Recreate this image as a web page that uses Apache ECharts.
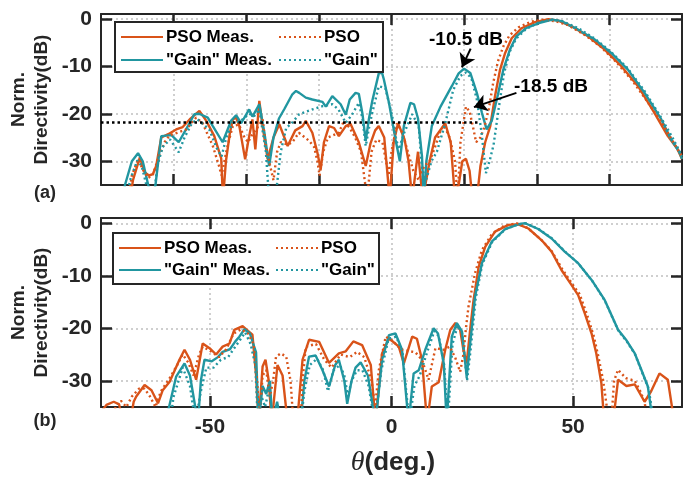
<!DOCTYPE html>
<html><head><meta charset="utf-8">
<script src="https://cdn.jsdelivr.net/npm/echarts@6/dist/echarts.min.js"></script>
<style>html,body{margin:0;padding:0;background:#fff}#c{width:683px;height:483px}</style>
</head><body><div id="c"></div>
<script>
// ---------- tick values ----------
const xTicksA = [-60, -40, -20, 0, 20, 40, 60];
const xTicksB = [-50, 0, 50];
const yTicks = [-30, -20, -10, 0];
const names = ['PSO Meas.', 'PSO', '"Gain" Meas.', '"Gain"'];

// ---------- panel (a) data [deg, dB] ----------
const aPsoMeas = [[-80,-38],[-72,-38],[-71.2,-34],[-69.3,-29.2],[-68,-32.3],[-66.8,-33],[-65.7,-32.7],[-64.8,-31],[-63.4,-25],[-61.5,-24.3],[-59.3,-23.3],[-57.5,-22.8],[-55.6,-21.2],[-52.9,-19.4],[-51,-21.5],[-48.8,-24.7],[-46.9,-29.4],[-46.4,-38],[-45.6,-30],[-44.5,-24],[-43.7,-21.2],[-42.8,-20.8],[-41.9,-22.6],[-40.3,-29.6],[-39.5,-26],[-38.3,-21.2],[-37.5,-27.5],[-36.4,-17.3],[-35.5,-22.6],[-34.1,-29.6],[-32.5,-25],[-30.9,-22.2],[-28.6,-26.8],[-26.5,-23.5],[-24.5,-22.6],[-23.6,-21.5],[-21.8,-24],[-20.4,-28.2],[-19.5,-31.7],[-18.6,-26],[-17.2,-22.6],[-15.8,-23],[-14.5,-24.7],[-12.6,-22.6],[-11.3,-22.1],[-9,-26],[-7.1,-31],[-5.8,-26.3],[-4.5,-23.5],[-3.5,-22.6],[-2,-25],[-0.5,-38],[0.6,-26],[1.8,-22],[3.6,-25.4],[4.7,-30],[5.7,-38],[7.3,-28],[8.6,-38],[10.5,-30],[12,-25],[14.8,-22],[16.3,-26],[17.5,-38],[18.3,-36],[19.5,-30],[20.5,-29.5],[21.5,-32],[22.3,-38],[23.5,-38],[24.5,-31],[25.8,-26],[27.2,-22.6],[28.5,-16.3],[29.9,-10.7],[31.3,-7.2],[33.1,-4.1],[35.8,-2],[39.5,-0.7],[43.2,-0.1],[45.9,-0.4],[49.6,-1.6],[54.1,-3.7],[58.7,-6.5],[63.3,-10],[67.9,-14.2],[72.4,-19.8],[76.1,-24.7],[78.8,-27.5],[80,-29.5]];
const aPso = [[-80,-38],[-72.5,-38],[-71.5,-33],[-69.8,-29.6],[-68.3,-32],[-67,-33.5],[-65.8,-33],[-64.5,-30],[-62.5,-26],[-61.1,-24.5],[-59,-24],[-56.5,-23.3],[-53.8,-20.8],[-52,-22],[-49.2,-26.8],[-47.5,-31],[-46.8,-33],[-45.5,-28],[-44.7,-25.4],[-43.7,-22.6],[-42,-22.3],[-40.5,-25],[-39.5,-26],[-38.3,-24.3],[-37,-23],[-35.5,-21.2],[-34.6,-26.8],[-33.5,-30.7],[-32.5,-34],[-31.5,-28],[-30.5,-26],[-28.6,-26.5],[-27.3,-26],[-25.5,-24],[-22.7,-25.7],[-21.3,-27],[-20.4,-30],[-19.8,-33],[-18.8,-28],[-17.5,-25],[-16,-24.5],[-14.5,-24],[-13.1,-21.5],[-11.5,-23],[-10,-25],[-8.4,-28],[-6.7,-38],[-5.5,-28],[-4.2,-25.5],[-2.5,-26],[-1.5,-30],[-0.8,-33],[0,-28],[1.5,-22],[3,-24],[4.5,-28],[6,-32],[7.5,-34],[9,-31],[10.5,-30],[12,-27],[13.5,-23.5],[14.5,-22.5],[16,-25],[17.5,-30],[18.2,-38],[19,-26],[20.5,-18.5],[21.5,-19.5],[22.5,-23],[23.3,-26],[24.5,-25],[25.5,-23],[26.8,-19],[28,-13.5],[29.3,-9],[30.8,-5.8],[32.5,-3.5],[35,-1.8],[38.5,-0.6],[42,-0.2],[45,-0.5],[48.5,-1.3],[53,-3.3],[57.5,-5.8],[62,-9.2],[66.5,-13.2],[70.5,-17.5],[74.5,-22],[77.5,-25.8],[80,-29]];
const aGainMeas = [[-80,-38],[-74,-38],[-73.4,-35],[-71.5,-30],[-69.8,-28.3],[-68.5,-30],[-67,-35],[-66,-38],[-65,-35],[-63.4,-24.7],[-60.6,-24.5],[-58.6,-26],[-56,-22.5],[-54.3,-20.1],[-53,-20],[-50.6,-20.8],[-49.2,-22.6],[-46.5,-26],[-44.2,-21.5],[-42.8,-20.3],[-41.4,-22],[-39.2,-19.1],[-38.3,-20.6],[-36.4,-18],[-35,-24],[-33.7,-31],[-32.5,-25],[-31,-21],[-29.5,-19],[-27.3,-15.9],[-26.3,-15.2],[-25.4,-15.6],[-23.6,-16.6],[-21.8,-17],[-19,-17.5],[-18.1,-18.5],[-16.3,-16.3],[-14,-18],[-12.6,-20.2],[-11.5,-17],[-9.9,-15.6],[-9,-15.8],[-8,-20],[-7.1,-25.7],[-6.2,-21],[-5.3,-17.3],[-3.5,-11.5],[-2.6,-11.4],[-2.1,-12.8],[-0.7,-17.7],[1.1,-25.4],[2.3,-30],[3.4,-22.6],[5.2,-17.7],[6.2,-18],[7.3,-21],[8.4,-29],[8.9,-38],[9.6,-30],[11.1,-22.6],[13.5,-18.5],[16.6,-14.2],[18.5,-11.5],[20,-10.5],[21.7,-11.4],[23.5,-15.6],[24.9,-19.8],[26.2,-23.3],[27.6,-21.5],[29.3,-16],[30.8,-10.7],[32.6,-6.5],[34.4,-3.7],[37,-2],[40.6,-0.9],[44.3,-0.2],[46.8,-0.5],[51.4,-2.3],[56,-4.4],[60.5,-7.2],[65.1,-10.7],[69.7,-15.6],[74.3,-21.2],[77,-25.4],[79.3,-28.1],[80,-29.5]];
const aGain = [[-80,-38],[-73,-38],[-72,-34],[-70,-29.8],[-68.8,-31],[-67.5,-35],[-66.8,-38],[-65.5,-38],[-64.5,-31],[-63,-27],[-61,-25.4],[-58.6,-28.1],[-57,-25],[-54.9,-21.9],[-53.4,-21.2],[-50.2,-23.3],[-48.1,-27.3],[-46.8,-29],[-45.5,-25],[-43.7,-21.9],[-41.5,-21.5],[-39.2,-20],[-37.8,-20.5],[-36.4,-19.1],[-34.6,-28],[-33.7,-38],[-32,-38],[-30.5,-28],[-29,-23],[-27.5,-22],[-25.4,-20.1],[-21.8,-19.1],[-19,-18.4],[-16.3,-18],[-14.6,-19.1],[-12.6,-21.9],[-10.8,-20.1],[-9,-17.7],[-8,-21],[-7.1,-26.8],[-6.2,-23],[-5.3,-19.8],[-3.5,-14.2],[-1.7,-14.6],[0.2,-20.5],[1.2,-25],[2,-27.5],[3.5,-24],[5.7,-20.1],[7.5,-22.6],[8.4,-31.5],[9.5,-34],[11,-30],[12.5,-28],[14.8,-22],[17,-15],[19,-12],[20.5,-11.3],[22,-12.5],[23.5,-17],[24.8,-24],[26,-32.5],[27,-30],[28.1,-26.6],[29.5,-19],[31,-11.5],[32.5,-7],[34.3,-4.2],[37,-2.2],[40.5,-0.8],[44,-0.2],[47,-0.5],[51.5,-2],[56,-4.2],[60.5,-7],[65,-10.4],[69.5,-15],[74,-20.5],[77,-24.5],[79.3,-27.8],[80,-29]];

// ---------- panel (b) data [deg, dB] ----------
const bPsoMeas = [[-80,-36],[-78.5,-34.6],[-76.5,-34],[-75,-34.5],[-74,-38],[-72,-38],[-71,-34],[-70.3,-33],[-68,-30.8],[-66.1,-31.8],[-64.3,-34.3],[-63,-31.8],[-61.1,-30.2],[-58.4,-26],[-57,-24.1],[-55.5,-26],[-53.8,-29.8],[-52,-22.9],[-50.1,-23.8],[-48.3,-25],[-46.5,-23.5],[-44.6,-22.9],[-43.3,-20.3],[-41,-19.6],[-39.5,-20.5],[-38.3,-21.2],[-37.3,-28.9],[-36.6,-38],[-35.5,-27.3],[-34.7,-26],[-33.8,-30],[-33,-38],[-31.4,-27],[-30,-29],[-28.6,-38],[-26,-38],[-24.5,-26],[-22.7,-22.2],[-19.9,-22.6],[-17.2,-26.6],[-14.5,-24.8],[-12.6,-24.4],[-10.5,-22.5],[-8.1,-23.2],[-5.7,-27],[-4.4,-38],[-2.6,-24.8],[-0.7,-21.9],[2,-23.5],[3.4,-26.7],[5.7,-21.6],[7,-22],[8.4,-26],[9.8,-38],[11.1,-31.1],[13,-30.3],[14.8,-24.1],[16.2,-20.3],[17.6,-19],[18.9,-20.3],[19.8,-24.1],[20.7,-26.7],[21.7,-20],[22.6,-14.6],[24,-8.3],[25.8,-4.5],[28.5,-1.6],[32.2,-0.3],[34.9,-0.2],[37.7,-1],[41.3,-3.2],[44.1,-5.4],[46.8,-8.9],[49.6,-11.8],[51.4,-13.7],[53.2,-17.1],[55.1,-21],[56.4,-24.8],[57.8,-30.5],[58.6,-38],[61,-38],[62.4,-29.8],[64.7,-31],[67,-30.7],[69.7,-34],[71.5,-32],[73.8,-28.6],[76.1,-29.8],[77.9,-38],[80,-38]];
const bPso = [[-80,-38],[-77,-38],[-76,-35],[-74.5,-33.8],[-73,-35],[-71.5,-33],[-69.5,-31.5],[-68,-31.5],[-66.5,-33],[-65,-35],[-63.5,-32],[-61.1,-29.5],[-59,-27],[-57.5,-25],[-56,-26.5],[-54.5,-29],[-53,-25],[-52,-23.5],[-49.5,-24.5],[-47.5,-25.5],[-45.5,-24],[-43.5,-21],[-41.5,-20.2],[-39.5,-21],[-38,-23],[-37,-30],[-36.4,-38],[-35.5,-29],[-34.5,-28],[-33.5,-33],[-32.6,-30],[-31.8,-25.4],[-30.5,-24.8],[-29,-25.4],[-27.8,-30],[-27,-38],[-25,-38],[-24.5,-30],[-23.6,-23.5],[-20.8,-23],[-18.5,-26],[-16.5,-27.5],[-14,-25],[-11.5,-25.5],[-9.5,-24.5],[-7.5,-25.5],[-5.5,-30],[-4.5,-35],[-3.5,-28],[-1.6,-21.6],[0.5,-22.5],[2.5,-24],[4.5,-24.3],[6.6,-24.6],[8.4,-26],[10.2,-29.8],[12.1,-23.8],[14.4,-24.1],[16,-23.5],[17.5,-25.5],[18.9,-28.3],[19.8,-25],[20.5,-20],[21.2,-15.9],[23,-9.5],[24.9,-5.1],[27.6,-2.1],[31,-0.5],[34.5,0],[37.5,-0.9],[41,-3],[44,-5.2],[47,-8.7],[49.8,-11.6],[51.8,-13.5],[53.8,-17.3],[55.7,-21.5],[57,-25.5],[58.3,-30],[59.5,-36],[60.5,-38],[61.3,-30],[62.4,-27.9],[64.5,-29.5],[67,-30],[68.5,-32],[69.7,-34],[70.5,-38],[80,-38]];
const bGainMeas = [[-80,-38],[-62,-38],[-61.6,-36],[-59.3,-29.2],[-57,-26.7],[-55.5,-29],[-53.3,-38],[-52.5,-30],[-51.5,-26],[-49.5,-26.3],[-47.8,-25.5],[-46.5,-24.5],[-44.5,-24],[-43,-22.5],[-41.9,-21.6],[-40.5,-20.2],[-39,-21],[-37.3,-24.6],[-36.6,-38],[-35.5,-31],[-34.5,-32.5],[-33.5,-30],[-32.8,-38],[-31.5,-34],[-30.5,-38],[-25,-38],[-24,-30],[-22.7,-25.4],[-20.9,-25.2],[-19,-28],[-17.2,-31.1],[-15.5,-27],[-14.5,-26],[-13,-30],[-12.2,-34.4],[-11,-30],[-9.9,-27.5],[-8.5,-26.5],[-6.5,-29],[-4.4,-38],[-2.6,-26],[-0.7,-21.3],[1.1,-21],[2.9,-24.1],[4.7,-38],[6.1,-28.6],[7.5,-28],[9.3,-24.1],[11.6,-20],[12.8,-21],[14.4,-26.7],[15.2,-38],[16.6,-21.6],[18,-19],[19.4,-20.6],[20.7,-29.2],[21.5,-24],[23,-14],[24.9,-7.6],[27.6,-3.5],[31.3,-1.1],[34.9,-0.2],[36.8,0],[40.4,-1.1],[44.1,-2.9],[47.7,-5.4],[51.4,-7.6],[55.1,-10.8],[58.7,-14.6],[62.4,-20.3],[64.7,-22.3],[67,-24.8],[68.8,-27.9],[70.6,-31.1],[72,-38],[80,-38]];
const bGain = [[-80,-38],[-61,-38],[-60,-33],[-57.5,-27.5],[-55.5,-31],[-54,-38],[-52.5,-32],[-51,-27.5],[-49,-27.5],[-47,-26],[-45,-25.5],[-43.5,-24],[-41.5,-22],[-40.3,-20.8],[-38.8,-23],[-37.5,-27],[-36.8,-38],[-35.8,-33],[-34.8,-35],[-33.6,-31],[-32.8,-38],[-25,-38],[-24,-32],[-22.5,-27],[-20.5,-25.8],[-18.8,-28],[-17.5,-32],[-16,-28],[-14.2,-27],[-13,-29],[-12,-33],[-11,-30],[-9.5,-28],[-8,-28],[-6.3,-31],[-4.6,-38],[-2.8,-28],[-0.8,-22],[1.3,-21.6],[3,-24.5],[4.9,-38],[6.3,-31],[7.8,-29],[9.6,-25],[11.8,-20.5],[13,-21.5],[14.5,-27],[15.5,-38],[16.8,-23],[18.2,-19.5],[19.5,-21],[20.8,-30],[21.8,-24],[23.2,-14.2],[25,-7.8],[27.7,-3.6],[31.4,-1.1],[35,-0.2],[37,0],[40.5,-1.1],[44.2,-2.9],[47.8,-5.4],[51.5,-7.7],[55.2,-10.9],[58.8,-14.8],[62.5,-20.5],[64.8,-22.5],[67.1,-25],[68.9,-28.2],[70.8,-31.5],[72.3,-38],[80,-38]];

// ---------- annotations (data units) ----------
const thresholdLevel = -21.8;
const thresholdSpan = [-80, 24];
const annGainPeak = {text: '-10.5 dB', from: [21.8, -6.3], to: [19.4, -10.2]};
const annPsoPeak = {text: '-18.5 dB', from: [34.4, -15.6], to: [22.7, -18.6]};

// ---------- style ----------
const ORANGE = '#D95319';
const TEAL = '#2196A0';
const AX = '#262626';
const FONT = '"Liberation Sans", Arial, Helvetica, sans-serif';
const GRIDS = [
  {left: 101, top: 14, width: 581, height: 171},
  {left: 101, top: 218, width: 581, height: 189}
];

const chart = echarts.init(document.getElementById('c'), null, {renderer: 'canvas'});

function xMain(gi, ticks, labels) {
  return {type: 'value', gridIndex: gi, min: -80, max: 80, position: 'bottom',
    axisLine: {show: true, onZero: false, lineStyle: {color: AX, width: 2}},
    axisTick: {show: true, inside: true, length: 11, customValues: ticks, lineStyle: {color: AX, width: 2.5}},
    axisLabel: {show: labels, customValues: ticks, fontSize: 21, fontWeight: 'bold', color: AX, fontFamily: FONT, margin: 10},
    splitLine: {show: true, customValues: ticks, lineStyle: {color: '#cfcfcf', width: 2, type: [2, 3]}}
  };
}
function xMirror(gi, ticks) {
  return {type: 'value', gridIndex: gi, min: -80, max: 80, position: 'top',
    axisLine: {show: true, onZero: false, lineStyle: {color: AX, width: 2}},
    axisTick: {show: true, inside: true, length: 11, customValues: ticks, lineStyle: {color: AX, width: 2.5}},
    axisLabel: {show: false}, splitLine: {show: false}};
}
function yMain(gi) {
  return {type: 'value', gridIndex: gi, min: -35, max: 1, position: 'left',
    axisLine: {show: true, onZero: false, lineStyle: {color: AX, width: 2}},
    axisTick: {show: true, inside: true, length: 11, customValues: yTicks, lineStyle: {color: AX, width: 2.5}},
    axisLabel: {show: true, customValues: yTicks, fontSize: 21, fontWeight: 'bold', color: AX, fontFamily: FONT, margin: 9},
    splitLine: {show: true, customValues: yTicks, lineStyle: {color: '#cfcfcf', width: 2, type: [2, 3]}}
  };
}
function yMirror(gi) {
  return {type: 'value', gridIndex: gi, min: -35, max: 1, position: 'right',
    axisLine: {show: true, onZero: false, lineStyle: {color: AX, width: 2}},
    axisTick: {show: true, inside: true, length: 11, customValues: yTicks, lineStyle: {color: AX, width: 2.5}},
    axisLabel: {show: false}, splitLine: {show: false}};
}
function line(name, data, gi, color, dotted, extra) {
  return Object.assign({type: 'line', name: name, data: data, xAxisIndex: gi * 2, yAxisIndex: gi * 2,
    symbol: 'none', clip: true, animation: false, z: dotted ? 3 : 2,
    lineStyle: {color: color, width: 2.4, type: dotted ? [2, 3] : 'solid'},
    itemStyle: {color: color}}, extra || {});
}
const arrowLine = (a) => [{coord: a.from, symbol: 'none'}, {coord: a.to, symbol: 'arrow'}];

function legendCol(items, left, top, gap) {
  return {data: items, orient: 'vertical', left: left, top: top, padding: 0,
    itemWidth: 42, itemHeight: 14, itemGap: gap, selectedMode: false,
    itemStyle: {opacity: 0},
    textStyle: {fontSize: 17, fontWeight: 'bold', color: '#000', fontFamily: FONT, lineHeight: 18, padding: [0, 0, 0, -2]}};
}

const option = {
  backgroundColor: '#fff',
  animation: false,
  grid: GRIDS,
  xAxis: [xMain(0, xTicksA, false), xMirror(0, xTicksA), xMain(1, xTicksB, true), xMirror(1, xTicksB)],
  yAxis: [yMain(0), yMirror(0), yMain(1), yMirror(1)],
  legend: [
    legendCol([names[0], names[2]], 120, 28, 5),
    legendCol([names[1], names[3]], 278, 28, 5),
    legendCol([names[0], names[2]], 118, 239, 4),
    legendCol([names[1], names[3]], 275, 239, 4)
  ],
  series: [
    line(names[0], aPsoMeas, 0, ORANGE, false, {markLine: {silent: true, animation: false, symbolSize: 13, label: {show: false},
      lineStyle: {color: '#000', width: 2, type: 'solid'}, data: [arrowLine(annGainPeak), arrowLine(annPsoPeak)]}}),
    line(names[1], aPso, 0, ORANGE, true, {markLine: {silent: true, animation: false, symbol: 'none', label: {show: false},
      lineStyle: {color: '#000', width: 2.5, type: [2.5, 3]},
      data: [[{coord: [thresholdSpan[0], thresholdLevel]}, {coord: [thresholdSpan[1], thresholdLevel]}]]}}),
    line(names[2], aGainMeas, 0, TEAL, false),
    line(names[3], aGain, 0, TEAL, true),
    line(names[0], bPsoMeas, 1, ORANGE, false),
    line(names[1], bPso, 1, ORANGE, true),
    line(names[2], bGainMeas, 1, TEAL, false),
    line(names[3], bGain, 1, TEAL, true)
  ],
  graphic: [
    {type: 'rect', z: 3, shape: {x: 115, y: 22, width: 268, height: 50}, style: {fill: '#fff', stroke: AX, lineWidth: 2}},
    {type: 'rect', z: 3, shape: {x: 113, y: 233, width: 266, height: 51}, style: {fill: '#fff', stroke: AX, lineWidth: 2}},
    {type: 'text', z: 10, x: 30, y: 99.5, rotation: Math.PI / 2,
      style: {text: 'Norm.\nDirectivity(dB)', fontSize: 19, fontWeight: 'bold', fontFamily: FONT, fill: AX, align: 'center', verticalAlign: 'middle', lineHeight: 23}},
    {type: 'text', z: 10, x: 30, y: 312.5, rotation: Math.PI / 2,
      style: {text: 'Norm.\nDirectivity(dB)', fontSize: 19, fontWeight: 'bold', fontFamily: FONT, fill: AX, align: 'center', verticalAlign: 'middle', lineHeight: 23}},
    {type: 'text', z: 10, x: 45, y: 193, style: {text: '(a)', fontSize: 18, fontWeight: 'bold', fontFamily: FONT, fill: AX, align: 'center', verticalAlign: 'middle'}},
    {type: 'text', z: 10, x: 45, y: 421, style: {text: '(b)', fontSize: 18, fontWeight: 'bold', fontFamily: FONT, fill: AX, align: 'center', verticalAlign: 'middle'}},
    {type: 'text', z: 10, x: 466, y: 40, style: {text: annGainPeak.text, fontSize: 19, fontWeight: 'bold', fontFamily: FONT, fill: '#000', align: 'center', verticalAlign: 'middle'}},
    {type: 'text', z: 10, x: 551, y: 87, style: {text: annPsoPeak.text, fontSize: 19, fontWeight: 'bold', fontFamily: FONT, fill: '#000', align: 'center', verticalAlign: 'middle'}},
    {type: 'text', z: 10, x: 393, y: 463, style: {
      text: '{t|θ}{d|(deg.)}', align: 'center', verticalAlign: 'middle',
      rich: {t: {fontSize: 28, fontStyle: 'italic', fontFamily: '"Liberation Serif", "DejaVu Serif", serif', fill: AX},
             d: {fontSize: 26, fontWeight: 'bold', fontFamily: FONT, fill: AX}}}}
  ]
};
chart.setOption(option);
</script></body></html>
